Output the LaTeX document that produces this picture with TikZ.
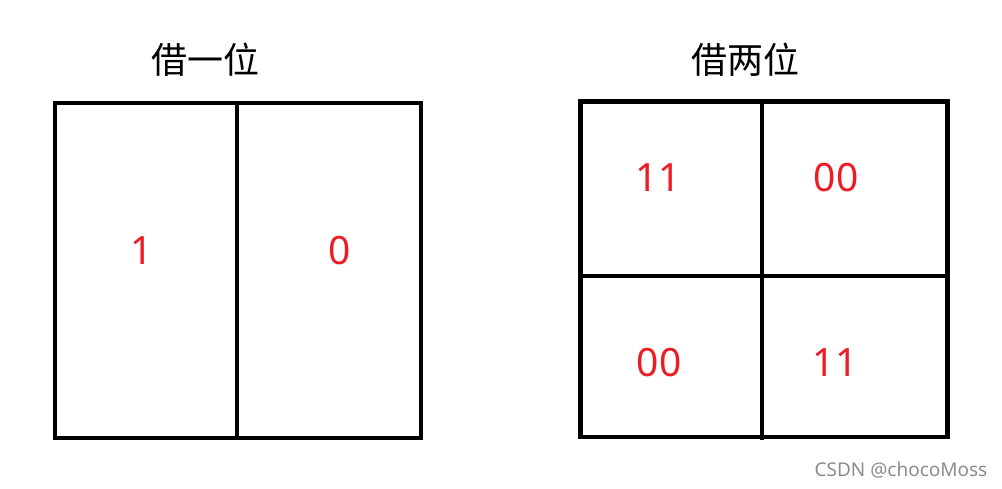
\documentclass[tikz,border=0pt]{standalone}
\usepackage{fontspec}
\setmainfont{Noto Sans}
\newfontfamily\cjk{Noto Sans CJK SC}
\definecolor{digred}{RGB}{237,28,36}
\begin{document}
\begin{tikzpicture}[x=1pt,y=-1pt,
  box/.style={draw=black,line width=4.5pt},
  title/.style={font=\cjk\fontsize{36}{40}\selectfont,inner sep=0pt},
  digit/.style={font=\fontsize{39}{44}\selectfont,text=digred,inner sep=0pt},
  wmark/.style={font=\fontsize{19}{22}\selectfont,text=black!45,inner sep=0pt}]
\useasboundingbox (0,0) rectangle (1002,488);
% left
\draw[box] (55,103) rectangle (421,438);
\coordinate (lt) at (237,103);
\coordinate (lb) at (237,438);
\draw[box] (lt) -- (lb);
\node[title] (t1) at (205,60) {借一位};
\node[digit] (a) at (142,251) {1};
\node[digit] (b) at (340,251) {0};
% right
\draw[box] (580.5,101.5) rectangle (947.5,437);
\coordinate (rt) at (762,101.5);
\coordinate (rb) at (762,440);
\coordinate (rl) at (580.5,276);
\coordinate (rr) at (947.5,276);
\draw[box] (rt) -- (rb);
\draw[box] (rl) -- (rr);
\node[title] (t2) at (745,60) {借两位};
\node[digit] (c) at (658,178) {11};
\node[digit] (d) at (836,178) {00};
\node[digit] (e) at (659,363) {00};
\node[digit] (f) at (835,363) {11};
\node[wmark] (w) at (901,470) {CSDN @chocoMoss};
\end{tikzpicture}
\end{document}
